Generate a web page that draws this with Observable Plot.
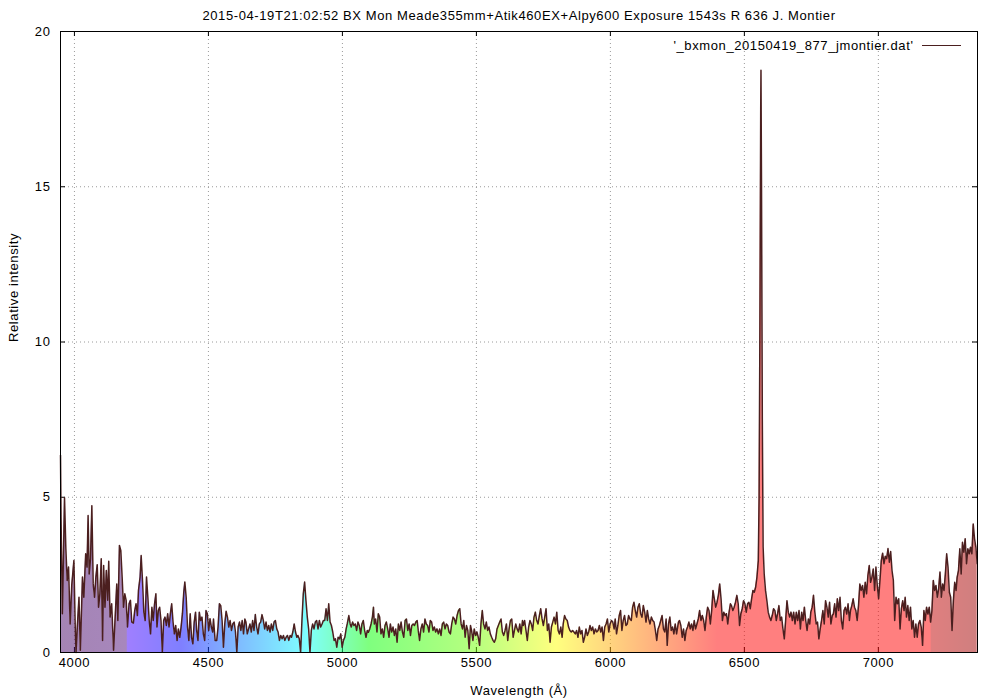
<!DOCTYPE html>
<html>
<head>
<meta charset="utf-8">
<script src="https://cdn.jsdelivr.net/npm/d3@7"></script>
<script src="https://cdn.jsdelivr.net/npm/@observablehq/plot@0.6"></script>
<style>
  html, body { margin: 0; padding: 0; background: #fff; }
  svg { display: block; }
  svg text { letter-spacing: 0.6px; }
</style>
</head>
<body>
<div id="chart"></div>
<script>
// ---------- text ----------
const titleText = "2015-04-19T21:02:52 BX Mon Meade355mm+Atik460EX+Alpy600 Exposure 1543s R 636 J. Montier";
const seriesName = "'_bxmon_20150419_877_jmontier.dat'";
const xLabel = "Wavelength (Å)";
const yLabel = "Relative intensity";

// ---------- ticks ----------
const xTicks = [4000, 4500, 5000, 5500, 6000, 6500, 7000];
const yTicks = [0, 5, 10, 15, 20];
const xDomain = [3948, 7370];
const yDomain = [0, 20];

// ---------- spectrum (wavelength in Å, relative intensity) ----------
const wavelength = [
  3948,3950,3955,3963,3968,3973,3978,3984,3990,3998,
  4003,4006,4011,4017,4022,4030,4035,4042,4047,4051,
  4055,4060,4065,4070,4075,4080,4085,4090,4095,4100,
  4105,4109,4114,4119,4124,4128,4133,4139,4146,4152,
  4158,4162,4168,4173,4178,4183,4188,4193,4198,4204,
  4209,4214,4220,4225,4230,4235,4239,4245,4249,4254,
  4259,4264,4269,4274,4279,4284,4289,4294,4299,4304,
  4308,4313,4318,4323,4328,4333,4338,4343,4348,4353,
  4358,4363,4368,4373,4378,4383,4388,4393,4398,4403,
  4408,4412,4417,4422,4427,4432,4437,4442,4447,4452,
  4456,4461,4466,4471,4476,4481,4486,4491,4496,4501,
  4506,4511,4516,
  4519,4525,4531,4536,4541,4546,4551,4556,4561,4566,
  4571,4576,4581,4586,4591,4596,4601,4606,4611,4616,
  4621,4626,4631,4636,4640,4645,4650,4655,4660,4665,
  4670,4675,4680,4685,4690,4695,4700,4705,4710,4715,
  4720,4725,4730,4735,4740,4745,4750,4755,4760,4765,
  4770,4775,4780,4785,4790,4795,4800,4805,4810,4815,
  4820,4825,4830,4834,4839,4844,4849,4854,4859,4864,
  4869,4874,4879,4884,4889,4894,4899,4904,4909,4914,
  4919,4924,4929,4934,4939,4944,4949,4954,4959,4964,
  4969,4974,4979,4984,4989,4994,4999,5004,5009,5014,
  5018,5024,5029,5033,5038,5043,5048,5053,5058,5063,
  5068,5073,5078,5083,5088,5093,
  5097,5102,5107,5112,5116,5119,5124,5129,5134,5139,
  5144,5149,5154,5159,5164,5169,5174,5179,5184,5189,
  5194,5199,5204,5209,5214,5219,5224,5229,5234,5239,
  5244,5249,5254,5259,5264,5269,5274,5279,5283,5288,
  5293,5298,5303,5308,5313,5318,5323,5328,5333,5338,
  5343,5348,5353,5358,5363,5368,5373,5378,5383,5388,
  5393,5398,5403,5408,5413,5418,5423,5428,5433,5438,
  5443,5448,5453,5458,5463,5468,5473,5478,5482,5487,
  5492,5497,5502,5507,5512,5517,5522,5527,5532,5537,
  5542,5547,5552,5557,5562,5567,5572,5577,5582,5587,
  5592,5597,5602,5607,5612,5617,5622,5627,5632,5637,
  5642,5647,5652,5657,5662,5667,5672,
  5675,5680,5685,5690,5695,5700,5705,5710,5715,5720,
  5725,5730,5735,5740,5745,5750,5755,5760,5765,5770,
  5775,5780,5785,5790,5795,5800,5805,5810,5815,5820,
  5824,5829,5834,5839,5844,5849,5854,5859,5864,5869,
  5874,5879,5884,5889,5894,5899,5904,5909,5914,5919,
  5924,5929,5934,5939,5944,5949,5954,5959,5964,5969,
  5974,5979,5984,5989,5994,5999,6004,6009,6014,6018,
  6023,6028,6033,6038,6043,6048,6053,6058,6063,6068,
  6073,6078,6083,6088,6093,6098,6103,6108,6113,6118,
  6123,6128,6133,6138,6143,6148,6153,6158,6163,6168,
  6173,6178,6183,6188,6193,6198,6203,6208,6212,6217,
  6222,6227,6232,6237,6242,6247,
  6254,6258,6263,6268,6273,6278,6283,6288,6293,6298,
  6303,6308,6313,6318,6323,6328,6333,6338,6343,6348,
  6353,6358,6363,6368,6373,6378,6383,6388,6393,6398,
  6403,6408,6413,6418,6423,6428,6433,6438,6443,6448,
  6452,6457,6462,6467,6472,6477,6482,6487,6492,6497,
  6502,6507,6512,6517,6522,6527,6532,6537,6542,6547,
  6552,6555,6558,6561,6562,6564,6567,6570,6574,6579,
  6584,6589,6594,6599,6604,6609,6614,6619,6624,6629,
  6634,6639,6644,6649,6654,6659,6664,6669,6674,6679,
  6684,6689,6694,6699,6704,6709,6714,6719,6724,6729,
  6734,6739,6744,6748,6753,6758,6763,6768,6773,6778,
  6783,6788,6793,6798,6803,6808,6813,6818,6823,6828,
  6832,6837,6842,6847,6852,6857,6862,6867,6872,6877,
  6882,6887,6892,6896,6901,6906,6911,6916,6921,6926,
  6931,6936,6941,6946,6951,6956,6961,6966,6971,6976,
  6981,6986,6991,6996,7001,7006,7011,7016,7021,7026,
  7031,7036,7041,7046,7051,7056,7061,7066,7071,7076,
  7081,7086,7091,7096,7100,7105,7110,7115,7120,7125,
  7130,7135,7140,7145,7150,7155,7160,7165,7170,7175,
  7180,7185,7190,7195,7200,7205,7210,7215,7220,7225,
  7230,7235,7240,7245,7250,7255,7260,7265,7270,7275,
  7280,7285,7290,7294,7299,7304,7309,7314,7319,7324,
  7329,7334,7339,7344,7349,7354,7359,7364,7369
];
const intensity = [
  6.35,4.36,1.25,4.98,3.34,2.32,2.75,0.92,2.16,2.96,
  0.82,0.00,0.87,1.78,0.07,2.43,1.78,3.18,2.75,4.41,
  2.53,3.02,4.73,2.21,1.78,2.43,2.83,1.46,1.89,3.02,
  0.39,2.80,1.46,2.64,1.68,2.94,1.14,1.57,0.07,1.14,
  2.21,1.03,3.45,3.29,2.43,1.46,1.89,1.68,0.82,1.57,
  1.68,0.98,0.95,1.35,1.57,1.19,2.00,2.43,3.12,2.32,
  1.30,1.03,2.43,1.78,1.03,0.60,1.46,1.03,1.57,1.89,
  0.82,1.35,1.46,1.03,0.01,1.03,1.14,0.87,1.25,0.82,
  1.25,1.57,0.98,0.60,0.87,0.39,0.76,0.49,0.82,1.25,
  1.94,2.27,1.78,0.82,0.39,1.25,0.49,0.28,0.98,1.30,
  0.71,0.39,1.30,1.03,1.14,0.60,0.39,1.35,1.25,0.71,
  1.09,0.82,0.66,
  1.08,0.39,0.39,0.82,1.57,1.51,1.03,0.17,0.92,1.33,
  1.14,0.82,1.03,0.71,0.92,0.98,0.66,0.01,0.82,0.98,
  0.71,1.03,0.60,1.08,0.98,0.60,0.76,0.92,0.66,1.03,
  0.71,1.22,0.82,0.60,0.92,0.98,1.22,1.03,0.76,0.98,
  0.71,0.87,0.66,0.92,0.71,0.98,1.03,0.76,0.66,0.39,
  0.55,0.44,0.55,0.39,0.49,0.55,0.39,0.55,0.49,0.66,
  0.92,0.66,0.49,0.55,0.44,0.01,1.03,1.89,2.27,1.67,
  1.14,0.76,0.01,0.71,0.92,0.76,0.98,1.03,0.76,1.03,
  0.82,0.92,1.03,1.03,1.41,1.03,1.57,0.98,0.87,0.66,
  0.39,0.44,0.17,0.49,0.44,0.60,0.17,0.39,0.49,0.76,
  0.92,1.19,0.92,0.82,0.98,0.87,0.92,0.71,0.98,0.87,
  0.60,0.92,1.03,0.71,0.49,0.71,
  0.65,0.76,0.92,1.14,1.46,0.92,1.08,0.66,1.25,1.14,
  0.60,0.76,0.49,0.87,0.98,0.76,0.49,0.92,0.66,0.82,
  0.55,0.76,0.33,0.92,0.71,0.98,0.66,0.49,1.03,1.08,
  0.71,0.92,0.55,0.87,0.92,0.87,0.98,1.03,0.71,0.39,
  0.76,0.92,0.66,1.08,0.92,0.87,0.66,1.03,0.98,0.71,
  0.82,0.66,0.76,0.60,0.76,0.55,0.92,0.98,0.76,0.92,
  0.87,0.66,0.60,0.92,1.14,1.08,0.92,1.19,1.35,1.41,
  0.92,0.76,1.03,0.49,0.87,0.71,0.12,0.87,0.71,0.39,
  0.76,0.55,0.66,0.49,0.23,0.92,1.35,0.92,0.76,0.98,
  0.71,0.82,0.60,0.49,0.39,0.33,0.44,0.76,0.87,0.98,
  1.08,0.66,0.55,0.71,0.92,0.39,0.76,1.03,1.08,0.49,
  0.71,0.92,0.76,0.66,0.92,0.60,1.03,
  0.87,1.03,0.71,0.39,0.82,1.03,0.92,0.71,1.14,1.30,
  1.03,0.92,1.19,1.41,1.08,0.87,1.14,1.41,0.71,0.92,
  0.33,0.82,0.98,1.14,0.92,1.30,0.71,0.60,0.82,0.49,
  0.92,1.19,1.08,1.03,0.82,0.71,0.66,0.71,0.66,0.60,
  0.71,0.49,0.82,0.60,0.71,0.33,0.49,0.76,0.55,0.66,
  0.87,0.71,0.82,0.60,0.76,0.66,0.71,0.87,0.66,0.82,
  0.39,0.82,0.92,1.08,0.66,0.92,1.03,0.98,0.76,1.08,
  0.60,0.87,1.19,1.35,0.71,1.03,1.19,0.87,0.92,1.19,
  1.08,1.03,1.46,1.62,1.35,1.14,1.46,1.57,1.25,1.14,
  1.51,1.30,0.98,1.35,1.08,0.92,1.14,1.03,0.98,0.71,
  0.39,0.76,0.87,1.03,1.19,0.76,0.66,1.08,0.23,0.92,
  1.14,0.71,0.82,0.60,0.92,0.60,
  0.98,1.03,0.87,0.49,0.76,0.39,0.71,0.82,0.98,0.76,
  0.92,0.71,1.03,0.76,0.92,1.08,1.35,1.03,1.19,1.03,
  0.71,1.14,1.46,1.35,0.92,1.35,2.00,1.73,1.46,1.62,
  1.84,2.21,1.73,1.03,1.30,1.19,1.25,0.92,1.30,1.57,
  1.51,1.35,1.46,1.62,1.84,1.57,0.87,1.25,1.41,1.67,
  1.57,1.30,1.57,1.62,1.41,1.73,2.00,1.94,2.10,2.43,
  2.96,5.00,10.5,17.5,18.75,15.0,7.50,3.40,2.53,2.00,
  1.67,1.30,1.14,1.03,1.19,1.41,1.35,1.03,1.25,1.51,
  1.03,1.14,0.76,0.44,1.03,1.67,1.30,1.14,1.30,1.03,
  1.30,0.92,1.30,1.03,1.35,0.76,1.30,1.03,1.46,1.03,
  0.71,1.08,0.92,1.30,1.46,1.84,1.30,0.92,0.98,0.44,
  0.76,1.03,1.35,0.92,1.67,1.46,1.14,1.62,0.92,1.19,
  1.24,1.57,1.14,1.73,1.35,1.78,1.03,0.76,1.35,1.46,
  1.24,1.57,1.03,1.35,1.51,1.73,1.46,1.35,1.03,1.51,
  2.21,2.00,2.16,1.78,2.26,1.89,2.48,2.80,2.26,2.42,
  2.69,2.00,2.75,2.16,1.73,2.32,2.96,3.20,2.86,3.10,
  3.02,3.35,2.91,3.25,2.64,2.32,1.03,1.78,1.57,1.73,
  0.76,1.41,1.67,1.35,1.78,1.14,1.51,1.03,1.46,0.76,
  1.03,0.49,0.92,0.49,0.92,1.03,0.82,0.23,1.35,1.03,
  1.46,1.24,1.46,0.98,1.35,2.32,2.00,2.16,1.78,2.05,
  2.59,1.78,2.21,2.00,2.53,3.18,2.75,1.94,1.78,0.71,
  1.67,2.26,2.00,2.42,2.64,3.34,2.53,3.55,3.23,3.66,
  2.86,3.34,3.18,3.39,3.18,4.14,3.66,3.39,2.86
];

// colour stops of the spectrum fill (wavelength, colour), drawn at 50% opacity
const stopWavelength = [3948, 4195, 4200, 4400, 4600, 4870, 5100, 5500, 5800, 6100, 6400, 7195, 7200, 7370];
const stopColor = ["#4a0a6a", "#50107a", "#4000ff", "#0000ff", "#0070ff", "#00ffff", "#00ff00", "#70ff00", "#ffff00", "#ff8000", "#ff0000", "#ff0000", "#c00000", "#a00000"];

const spectrum = wavelength.map((w, i) => ({w, v: intensity[i]}));

const font = "'Liberation Sans', Arial, sans-serif";
const lineColor = "#4b1f1f";
const gridColor = "#9a9a9a";

const chart = Plot.plot({
  width: 1000,
  height: 700,
  marginTop: 31,
  marginRight: 23,
  marginBottom: 48,
  marginLeft: 60,
  style: {fontFamily: font, fontSize: "13px", background: "#fff", color: "#000"},
  x: {domain: xDomain},
  y: {domain: yDomain},
  marks: [
    // dotted grid
    Plot.ruleX(xTicks, {x: d => d, stroke: gridColor, strokeDasharray: "1,3"}),
    Plot.ruleY(yTicks, {y: d => d, stroke: gridColor, strokeDasharray: "1,3"}),
    // inward tick marks (all four sides)
    Plot.ruleX(xTicks, {x: d => d, y1: yDomain[0], y2: yDomain[0], insetTop: -5, stroke: "#000"}),
    Plot.ruleX(xTicks, {x: d => d, y1: yDomain[1], y2: yDomain[1], insetBottom: -5, stroke: "#000"}),
    Plot.ruleY(yTicks, {y: d => d, x1: xDomain[0], x2: xDomain[0], insetRight: -5, stroke: "#000"}),
    Plot.ruleY(yTicks, {y: d => d, x1: xDomain[1], x2: xDomain[1], insetLeft: -5, stroke: "#000"}),
    // spectrum fill and line
    Plot.areaY(spectrum, {x: "w", y: "v", fill: "url(#specgrad)", fillOpacity: 0.5}),
    Plot.line(spectrum, {x: "w", y: "v", stroke: lineColor, strokeWidth: 1.5}),
    Plot.frame({stroke: "#000", strokeWidth: 1}),
    // axes labels
    Plot.axisX(xTicks, {anchor: "bottom", tickSize: 0, tickPadding: 5, tickFormat: d => String(d), label: null, fontSize: 13}),
    Plot.axisY(yTicks, {anchor: "left", tickSize: 0, tickPadding: 10, tickFormat: d => String(d), label: null, fontSize: 13}),
    Plot.text([xLabel], {frameAnchor: "bottom", lineAnchor: "middle", dy: 38, fontSize: 13}),
    Plot.text([yLabel], {frameAnchor: "left", lineAnchor: "middle", dx: -47, rotate: -90, fontSize: 13}),
    Plot.text([titleText], {frameAnchor: "top", lineAnchor: "middle", dy: -16, fontSize: 13}),
    Plot.text([seriesName], {frameAnchor: "top-right", lineAnchor: "middle", dx: -64, dy: 14, textAnchor: "end", fontSize: 13})
  ]
});

document.getElementById("chart").appendChild(chart);

// gradient definition for the spectrum fill, positioned with the plot's x scale
const xs = chart.scale("x");
const ys = chart.scale("y");
const svg = d3.select(chart);
const x0 = xs.apply(xDomain[0]), x1 = xs.apply(xDomain[1]);
const grad = svg.insert("defs", ":first-child")
  .append("linearGradient")
  .attr("id", "specgrad")
  .attr("gradientUnits", "userSpaceOnUse")
  .attr("x1", x0).attr("x2", x1).attr("y1", 0).attr("y2", 0);
stopWavelength.forEach((w, i) => {
  grad.append("stop")
    .attr("offset", (xs.apply(w) - x0) / (x1 - x0))
    .attr("stop-color", stopColor[i]);
});

// legend sample line (to the right of the series name)
const legendY = ys.apply(yDomain[1]) + 14.5;
svg.append("line")
  .attr("x1", x1 - 55).attr("x2", x1 - 16)
  .attr("y1", legendY).attr("y2", legendY)
  .attr("stroke", lineColor).attr("stroke-width", 1);
</script>
</body>
</html>
